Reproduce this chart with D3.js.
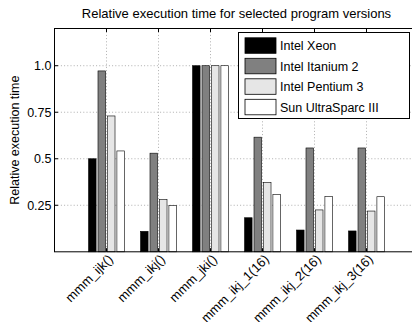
<!DOCTYPE html>
<html>
<head>
<meta charset="utf-8">
<script src="https://cdn.jsdelivr.net/npm/d3@7"></script>
<style>
  body { margin: 0; background: #fff; }
  text { font-family: Arial, "Liberation Sans", Helvetica, sans-serif; }
</style>
</head>
<body>
<div id="chart"></div>
<script>
var programs = ["mmm_ijk()", "mmm_ikj()", "mmm_jki()", "mmm_ikj_1(16)", "mmm_ikj_2(16)", "mmm_ikj_3(16)"];
var machines = ["Intel Xeon", "Intel Itanium 2", "Intel Pentium 3", "Sun UltraSparc III"];
var xeon     = [0.50, 0.11, 1.0, 0.183, 0.117, 0.112];
var itanium  = [0.972, 0.53, 1.0, 0.616, 0.558, 0.558];
var pentium  = [0.73, 0.28, 1.0, 0.372, 0.225, 0.219];
var ultra    = [0.542, 0.248, 1.0, 0.307, 0.298, 0.296];
var yTicks = [0.25, 0.5, 0.75, 1.0];
var yTickLabels = ["0.25", "0.5", "0.75", "1.0"];
var colors = ["#000000", "#808080", "#e6e6e6", "#ffffff"];

var series = [xeon, itanium, pentium, ultra];

var W = 412, H = 322;
var plotLeft = 54.5, plotTop = 28.5, plotBottom = 251.8, plotRight = 418.5;

var svg = d3.select("#chart").append("svg")
    .attr("width", W).attr("height", H);

var x = d3.scaleLinear().domain([0, programs.length + 1]).range([plotLeft, plotRight]);
var y = d3.scaleLinear().domain([0, 1.2]).range([plotBottom, plotTop]);

// matlab style grouped bars
var n = series.length;
var groupWidth = Math.min(0.8, n / (n + 1.5));
var barW = 0.8 * groupWidth / n;
function offset(i) { return -groupWidth / 2 + (2 * i + 1) * groupWidth / (2 * n); }

// grid
var grid = svg.append("g").attr("stroke", "#9a9a9a").attr("stroke-width", 0.8)
    .attr("stroke-dasharray", "1,2.2");
yTicks.forEach(function(t){
    grid.append("line").attr("x1", plotLeft).attr("x2", plotRight)
        .attr("y1", y(t)).attr("y2", y(t));
});
programs.forEach(function(p, i){
    grid.append("line").attr("x1", x(i + 1)).attr("x2", x(i + 1))
        .attr("y1", plotTop).attr("y2", plotBottom);
});

// bars
series.forEach(function(vals, s){
    svg.append("g").selectAll("rect")
        .data(vals)
        .enter()
        .append("rect")
        .attr("x", function(d, i){ return x(i + 1 + offset(s) - barW / 2); })
        .attr("width", x(barW) - x(0))
        .attr("y", function(d){ return y(d); })
        .attr("height", function(d){ return y(0) - y(d); })
        .attr("fill", colors[s])
        .attr("stroke", "#000")
        .attr("stroke-width", 0.6);
});

// axes box
svg.append("rect").attr("x", plotLeft).attr("y", plotTop)
    .attr("width", plotRight - plotLeft).attr("height", plotBottom - plotTop)
    .attr("fill", "none").attr("stroke", "#000").attr("stroke-width", 1);

var tickLen = 3.6;
var ticks = svg.append("g").attr("stroke", "#000").attr("stroke-width", 1);
yTicks.forEach(function(t){
    ticks.append("line").attr("x1", plotLeft).attr("x2", plotLeft + tickLen)
        .attr("y1", y(t)).attr("y2", y(t));
    ticks.append("line").attr("x1", plotRight).attr("x2", plotRight - tickLen)
        .attr("y1", y(t)).attr("y2", y(t));
});
programs.forEach(function(p, i){
    ticks.append("line").attr("x1", x(i + 1)).attr("x2", x(i + 1))
        .attr("y1", plotBottom).attr("y2", plotBottom - tickLen);
    ticks.append("line").attr("x1", x(i + 1)).attr("x2", x(i + 1))
        .attr("y1", plotTop).attr("y2", plotTop + tickLen);
});

// y tick labels
svg.append("g").selectAll("text")
    .data(yTicks)
    .enter()
    .append("text")
    .attr("x", plotLeft - 3)
    .attr("y", function(d){ return y(d) + 4.5; })
    .attr("text-anchor", "end")
    .attr("font-size", "12.5px")
    .text(function(d, i){ return yTickLabels[i]; });

// x tick labels, rotated
svg.append("g").selectAll("text")
    .data(programs)
    .enter()
    .append("text")
    .attr("transform", function(d, i){ return "translate(" + (x(i + 1) + 4) + "," + (plotBottom + 5) + ") rotate(-45)"; })
    .attr("text-anchor", "end")
    .attr("dy", "0.35em")
    .attr("font-size", "13px")
    .text(function(d){ return d; });

// titles
svg.append("text").attr("x", (plotLeft + plotRight) / 2).attr("y", 18)
    .attr("text-anchor", "middle").attr("font-size", "13px")
    .text("Relative execution time for selected program versions");

svg.append("text")
    .attr("transform", "translate(19," + ((plotTop + plotBottom) / 2) + ") rotate(-90)")
    .attr("text-anchor", "middle").attr("font-size", "12.5px")
    .text("Relative execution time");

// legend
var lg = svg.append("g");
lg.append("rect").attr("x", 238.5).attr("y", 32.5).attr("width", 171).attr("height", 86)
    .attr("fill", "#fff").attr("stroke", "#000").attr("stroke-width", 1);
machines.forEach(function(m, i){
    lg.append("rect").attr("x", 245).attr("y", 37.8 + i * 20.5)
        .attr("width", 31).attr("height", 15.5)
        .attr("fill", colors[i]).attr("stroke", "#000").attr("stroke-width", 0.8);
    lg.append("text").attr("x", 280).attr("y", 50 + i * 20.5)
        .attr("font-size", "12.5px")
        .text(m);
});
</script>
</body>
</html>
